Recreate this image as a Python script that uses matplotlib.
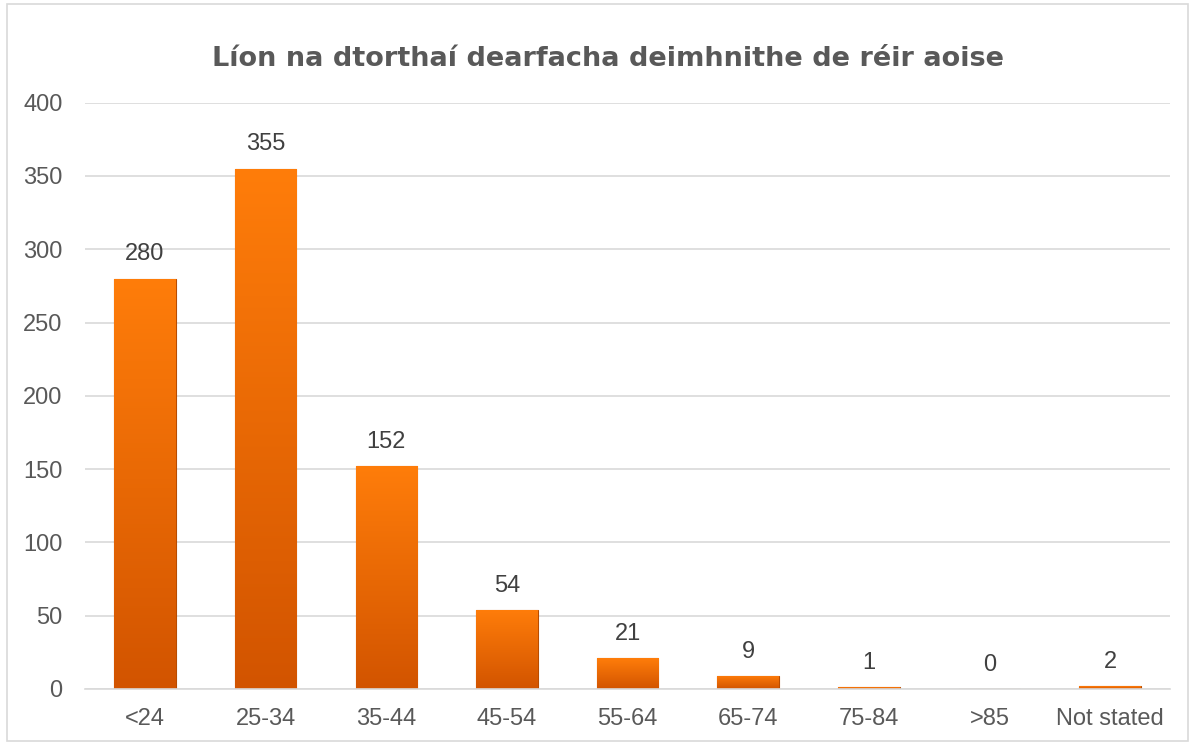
import numpy as np
import matplotlib.pyplot as plt
from matplotlib.colors import LinearSegmentedColormap

# data
age_groups = ['<24', '25-34', '35-44', '45-54', '55-64', '65-74', '75-84', '>85', 'Not stated']
positives = [280, 355, 152, 54, 21, 9, 1, 0, 2]
y_ticks = [0, 50, 100, 150, 200, 250, 300, 350, 400]

txt = '#595959'
plt.rcParams['font.family'] = ['Liberation Sans', 'DejaVu Sans']

fig = plt.figure(figsize=(11.93, 7.44), dpi=100)
ax = fig.add_axes([0.071, 0.074, 0.910, 0.788])

x = np.arange(len(age_groups))
bars = ax.bar(x, positives, width=0.51, color='#F26B00', edgecolor='#B84C00',
              linewidth=0.8, zorder=2)

# vertical gradient fill for each bar
grad = LinearSegmentedColormap.from_list('og', ['#D25400', '#FF7D0A'])
g = np.linspace(0, 1, 256).reshape(-1, 1)
for b in bars:
    h = b.get_height()
    if h <= 0:
        continue
    im = ax.imshow(g, cmap=grad, aspect='auto', origin='lower', zorder=2.1,
                   extent=[b.get_x(), b.get_x() + b.get_width(), 0, h])
    im.set_clip_path(b)

for xi, v in zip(x, positives):
    ax.text(xi, v + 9, str(v), ha='center', va='bottom', fontsize=17, color='#404040')

ax.set_xlim(-0.5, len(age_groups) - 0.5)
ax.set_ylim(0, 400)
ax.set_xticks(x)
ax.set_xticklabels(age_groups)
ax.set_yticks(y_ticks)
ax.tick_params(axis='both', length=0, labelsize=17, colors=txt)
ax.tick_params(axis='x', pad=14)
ax.tick_params(axis='y', pad=16)
ax.yaxis.grid(True, color='#D9D9D9', linewidth=1.2, zorder=0)
ax.set_axisbelow(True)
for s in ['top', 'right', 'left']:
    ax.spines[s].set_visible(False)
ax.spines['bottom'].set_color('#D9D9D9')
ax.spines['bottom'].set_linewidth(1.2)

fig.text(0.51, 0.921, 'Líon na dtorthaí dearfacha deimhnithe de réir aoise',
         ha='center', va='center', fontsize=19.5, fontweight='bold', color=txt,
         family='DejaVu Sans')

# outer chart border
fig.patches.append(plt.Rectangle((0.006, 0.004), 0.99, 0.99, transform=fig.transFigure,
                                 fill=False, edgecolor='#D9D9D9', linewidth=1.2))

fig.savefig('out.png', dpi=100)
